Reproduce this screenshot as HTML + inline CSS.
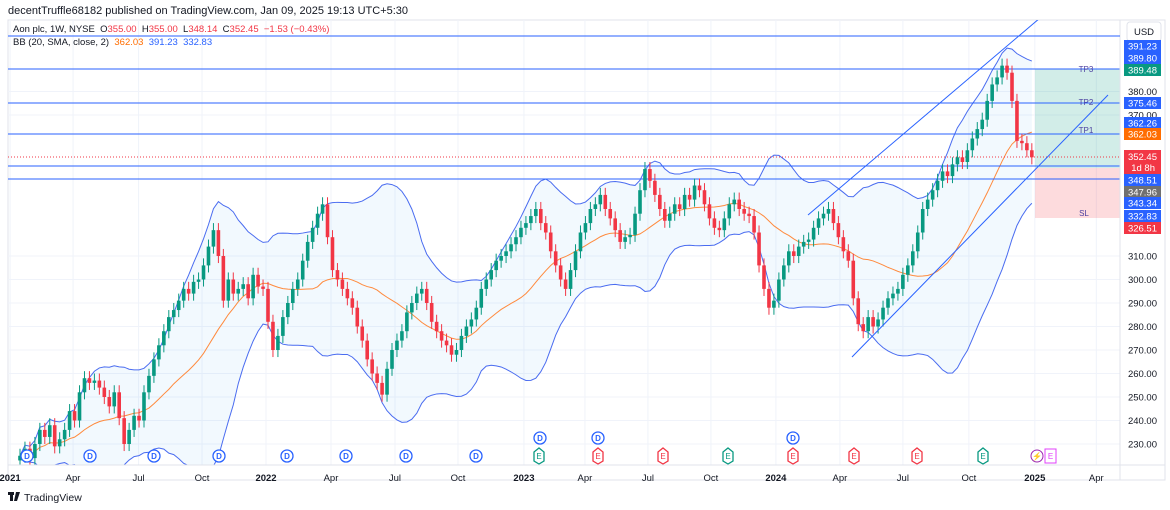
<!DOCTYPE html>
<html><head><meta charset="utf-8"><style>
body{margin:0;width:1170px;height:510px;background:#fff;overflow:hidden;font-family:"Liberation Sans",sans-serif;}
svg{position:absolute;left:0;top:0}
text{font-family:"Liberation Sans",sans-serif}
</style></head><body>
<svg id="c" width="1170" height="510"></svg>
<script>
const closes=[225,228,224,230,236,233,238,229,232,
236,244,240,252,258,256,257,
254,250,246,252,241,230,236,
242,240,252,259,
266,272,278,
284,287,291,
296,294,299,300,
306,314,321,
310,291,
300,294,296,
298,292,302,297,296,
282,270,
276,284,290,296,300,
308,316,322,328,332,
318,304,300,296,
292,288,280,274,
266,260,256,251,
262,270,274,278,
286,290,294,296,
290,282,278,274,
272,268,270,
276,280,283,
288,296,300,304,
308,310,312,315,
318,322,324,327,
330,324,320,
312,306,300,296,
304,312,320,
324,330,332,336,
330,326,321,
316,318,319,
328,338,347,
342,336,330,325,
328,332,330,336,
334,340,338,
332,326,322,321,
326,332,334,
330,328,327,
320,306,296,
288,291,
300,306,312,
310,314,316,317,
322,326,328,330,
324,318,312,308,
292,281,
278,284,280,283,
288,292,294,296,
302,306,312,
320,330,
334,338,342,
346,344,349,
352,350,355,
360,364,368,
376,383,
386,391,
388,376,
359,
358,355,
352];
const priceTicks=[230,240,250,260,270,280,290,300,310,370,380];
const timeLabels=["2021","Apr","Jul","Oct","2022","Apr","Jul","Oct","2023","Apr","Jul","Oct","2024","Apr","Jul","Oct","2025","Apr"];
const timeLabelWeeks=[-2,10.7,23.9,36.7,49.6,62.7,75.6,88.3,101.6,113.9,126.6,139.3,152.4,165.3,178,191.3,204.6,217];
const NS="http://www.w3.org/2000/svg";
const svg=document.getElementById('c');
const X0=8,X1=1120,Y0=20,Y1=465;
function y(p){return 256+(310-p)*2.35;}
function x(i){return 20+4.96*i;}
function el(t,a,parent){const e=document.createElementNS(NS,t);for(const k in a)e.setAttribute(k,a[k]);(parent||svg).appendChild(e);return e;}
function txt(s,a,parent){const e=el('text',a,parent);e.textContent=s;return e;}
let h=txt("decentTruffle68182 published on TradingView.com, Jan 09, 2025 19:13 UTC+5:30",{x:8,y:14,'font-size':11,fill:'#131722'});


el('rect',{x:X0,y:Y0,width:1157,height:480-Y0,fill:'none',stroke:'#e0e3eb'});
const grid=el('g',{});


priceTicks.forEach(p=>el('line',{x1:X0,x2:X1,y1:y(p),y2:y(p),stroke:'#f0f3fa'},grid));
timeLabelWeeks.forEach(w=>{const xx=x(w);if(xx>X0&&xx<X1)el('line',{x1:xx,x2:xx,y1:Y0,y2:Y1,stroke:'#f0f3fa'},grid);});
const defs=el('defs',{});const cp=el('clipPath',{id:'cp'},defs);el('rect',{x:X0,y:Y0,width:X1-X0,height:Y1-Y0},cp);
const plot=el('g',{'clip-path':'url(#cp)'});


const mid=[],up=[],lo=[];
closes.forEach((c,i)=>{const s=closes.slice(Math.max(0,i-19),i+1);const m=s.reduce((a,b)=>a+b,0)/s.length;const sd=Math.sqrt(s.reduce((a,b)=>a+(b-m)*(b-m),0)/s.length);mid.push(m);up.push(m+2*sd);lo.push(m-2*sd);});
let fillPts=up.map((v,i)=>x(i)+','+y(v)).concat(lo.map((v,i)=>x(i)+','+y(v)).reverse());
const bf=el('polygon',{points:fillPts.join(' '),fill:'rgba(33,150,243,0.06)'},plot);


const ub=el('polyline',{points:up.map((v,i)=>x(i)+','+y(v)).join(' '),fill:'none',stroke:'#4a6cf0','stroke-width':1},plot);


const lb=el('polyline',{points:lo.map((v,i)=>x(i)+','+y(v)).join(' '),fill:'none',stroke:'#4a6cf0','stroke-width':1},plot);


const mb=el('polyline',{points:mid.map((v,i)=>x(i)+','+y(v)).join(' '),fill:'none',stroke:'#ff8a3d','stroke-width':1},plot);


const gz=el('rect',{x:1035,y:69,width:85,height:99,fill:'rgba(8,153,129,0.18)'},plot);


const rz=el('rect',{x:1035,y:168,width:85,height:50,fill:'rgba(242,54,69,0.18)'},plot);


[[36,'level-391'],[69,'tp3-line'],[103,'tp2-line'],[134,'tp1-line'],[166,'level-348'],[179,'level-347']].forEach(([yy,n])=>{const l=el('line',{x1:X0,x2:X1,y1:yy,y2:yy,stroke:'#2962ff','stroke-width':1},plot);});
el('line',{x1:X0,x2:X1,y1:157,y2:157,stroke:'#f23645','stroke-dasharray':'1 2'},plot);
[['TP3',1086,72],['TP2',1086,105],['TP1',1086,133],['SL',1084,216]].forEach(([s,xx,yy])=>{const t=txt(s,{x:xx,y:yy,'font-size':8,fill:'#4b3fa0','text-anchor':'middle'},plot);});
const cg=el('g',{},plot);


closes.forEach((c,i)=>{const o=i?closes[i-1]:c-2;const col=c>=o?'#089981':'#f23645';const hi=Math.max(o,c)+3,lw=Math.min(o,c)-3;const xx=x(i);
el('line',{x1:xx,x2:xx,y1:y(hi),y2:y(lw),stroke:col},cg);
el('rect',{x:xx-1.8,y:y(Math.max(o,c)),width:3.6,height:Math.max(1,Math.abs(y(o)-y(c))),fill:col},cg);});
const t1=el('line',{x1:808,y1:215,x2:1040,y2:18,stroke:'#2962ff'},plot);


const t2=el('line',{x1:852,y1:357,x2:1108,y2:95,stroke:'#2962ff'},plot);


const ev=el('g',{});


function dIcon(xx,yy){el('circle',{cx:xx,cy:yy,r:6,fill:'#fff',stroke:'#2962ff','stroke-width':1.3},ev);txt('D',{x:xx,y:yy+3,'font-size':8,fill:'#2962ff','text-anchor':'middle','font-weight':'bold'},ev);}
function eIcon(xx,yy,col){el('path',{d:`M${xx-5} ${yy-4}L${xx} ${yy-8}L${xx+5} ${yy-4}V${yy+5}L${xx} ${yy+8}L${xx-5} ${yy+5}Z`,fill:'#fff',stroke:col,'stroke-width':1.3},ev);txt('E',{x:xx,y:yy+3,'font-size':8,fill:col,'text-anchor':'middle'},ev);}
[27,90,154,219,287,346,406,476].forEach(v=>dIcon(v,456));
[540,598,793].forEach(v=>dIcon(v,438));
[[539,'#089981'],[598,'#f23645'],[663,'#f23645'],[728,'#089981'],[793,'#f23645'],[854,'#f23645'],[917,'#f23645'],[983,'#089981']].forEach(([v,c])=>eIcon(v,456,c));
el('circle',{cx:1037,cy:456,r:6,fill:'#fff',stroke:'#9c27b0'},ev);txt('⚡',{x:1037,y:459,'font-size':8,fill:'#9c27b0','text-anchor':'middle'},ev);
el('rect',{x:1045,y:449,width:11,height:14,fill:'#fff',stroke:'#e040fb'},ev);txt('E',{x:1050.5,y:459,'font-size':8,fill:'#e040fb','text-anchor':'middle'},ev);
const ax=el('g',{});


el('line',{x1:X1,x2:X1,y1:Y0,y2:480,stroke:'#e0e3eb'},ax);
priceTicks.forEach(p=>txt(p.toFixed(2),{x:1157,y:y(p)+3.5,'font-size':9.5,fill:'#131722','text-anchor':'end'},ax));
el('rect',{x:1127,y:22,width:34,height:19,rx:3,fill:'#fff',stroke:'#e0e3eb'},ax);
txt('USD',{x:1144,y:35,'font-size':9.5,fill:'#131722','text-anchor':'middle'},ax);
[['391.23',46,'#2962ff'],['389.80',58,'#2962ff'],['389.48',70,'#089981'],['375.46',103,'#2962ff'],['362.26',123,'#2962ff'],['362.03',134,'#ff6d00'],['348.51',180,'#2962ff'],['347.96',192,'#707070'],['343.34',203,'#2962ff'],['332.83',216,'#2962ff'],['326.51',228,'#f23645']].forEach(([s,yy,c])=>{el('rect',{x:1124,y:yy-6,width:37,height:12,fill:c},ax);txt(s,{x:1157,y:yy+3.5,'font-size':9.5,fill:'#fff','text-anchor':'end'},ax);});
el('rect',{x:1124,y:150,width:37,height:24,fill:'#f23645'},ax);
txt('352.45',{x:1157,y:160,'font-size':9.5,fill:'#fff','text-anchor':'end'},ax);
txt('1d 8h',{x:1155,y:171,'font-size':9.5,fill:'#fff','text-anchor':'end'},ax);
const ta=el('g',{});


el('line',{x1:X0,x2:1165,y1:Y1,y2:Y1,stroke:'#e0e3eb'},ta);
timeLabels.forEach((s,i)=>{const bold=/^\d/.test(s);txt(s,{x:x(timeLabelWeeks[i]),y:481,'font-size':9.5,fill:'#131722','text-anchor':'middle','font-weight':bold?'bold':'normal'},ta);});
const lg=el('g',{});


el('line',{x1:X0,x2:X1,y1:36,y2:36,stroke:'#2962ff'},lg);
const l1=txt('',{x:13,y:32,'font-size':9.5,fill:'#131722'},lg);
l1.innerHTML='Aon plc, 1W, NYSE  O<tspan fill="#f23645">355.00</tspan>  H<tspan fill="#f23645">355.00</tspan>  L<tspan fill="#f23645">348.14</tspan>  C<tspan fill="#f23645">352.45  −1.53 (−0.43%)</tspan>';
l1.style.whiteSpace='pre';
const l2=txt('',{x:13,y:45,'font-size':9.5,fill:'#131722'},lg);
l2.innerHTML='BB (20, SMA, close, 2)  <tspan fill="#ff6d00">362.03</tspan>  <tspan fill="#2962ff">391.23</tspan>  <tspan fill="#2962ff">332.83</tspan>';
l2.style.whiteSpace='pre';
const ft=el('g',{});


el('rect',{x:8,y:492,width:6,height:3,fill:'#131722'},ft);el('rect',{x:10,y:492,width:3,height:9,fill:'#131722'},ft);el('path',{d:'M16 492h4l-3 9h-3z',fill:'#131722'},ft);
txt('TradingView',{x:24,y:501,'font-size':10.5,fill:'#131722'},ft);
</script>
</body></html>
